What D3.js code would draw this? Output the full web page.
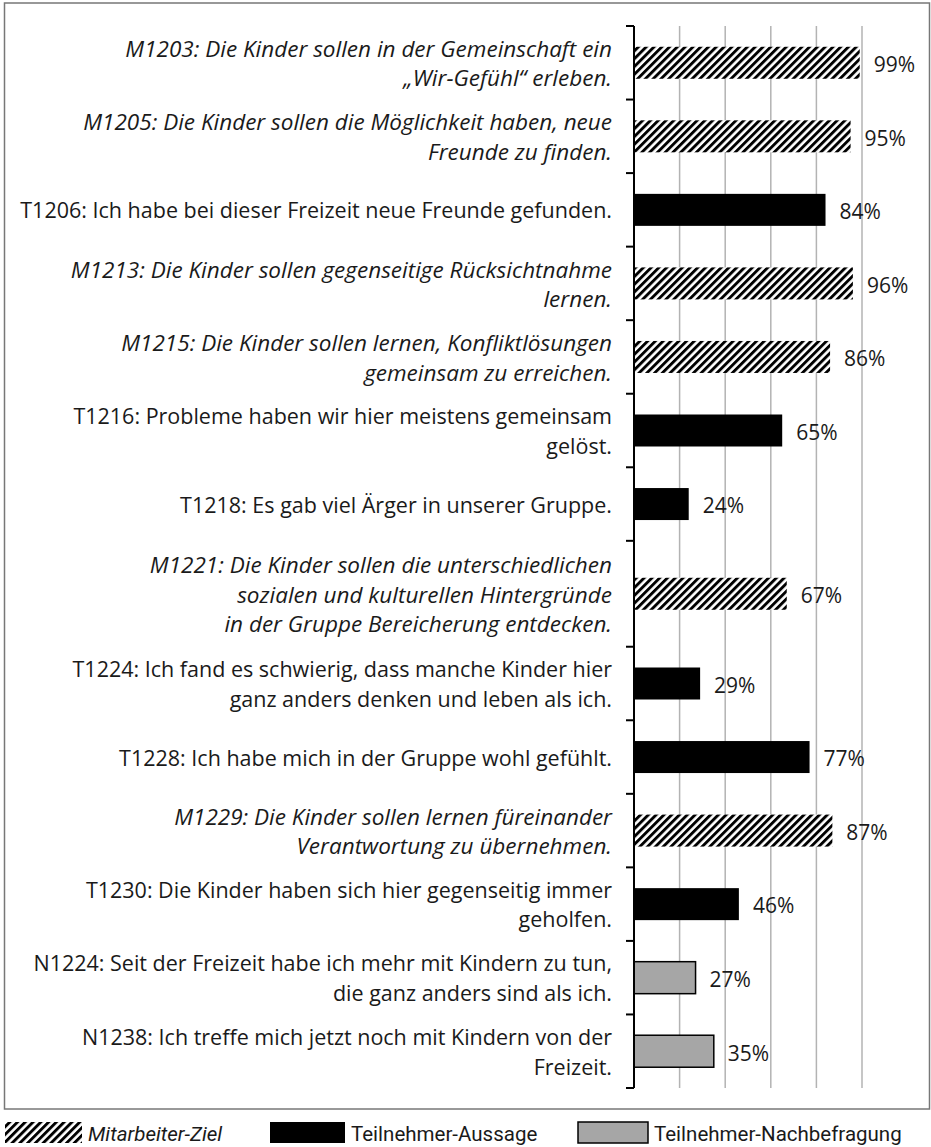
<!DOCTYPE html>
<html>
<head>
<meta charset="utf-8">
<script src="https://cdnjs.cloudflare.com/ajax/libs/d3/7.8.5/d3.min.js"></script>
<style>
  body { margin: 0; background: #fff; }
  svg text { font-family: "Open Sans", "Noto Sans", sans-serif; fill: #1a1a1a; }
  svg .legend text { font-family: Roboto, "Noto Sans", sans-serif; }
</style>
</head>
<body>
<div id="chart-area"></div>
<script>
// data
const labels = [
  "M1203: Die Kinder sollen in der Gemeinschaft ein\n„Wir-Gefühl“ erleben.",
  "M1205: Die Kinder sollen die Möglichkeit haben, neue\nFreunde zu finden.",
  "T1206: Ich habe bei dieser Freizeit neue Freunde gefunden.",
  "M1213: Die Kinder sollen gegenseitige Rücksichtnahme\nlernen.",
  "M1215: Die Kinder sollen lernen, Konfliktlösungen\ngemeinsam zu erreichen.",
  "T1216: Probleme haben wir hier meistens gemeinsam\ngelöst.",
  "T1218: Es gab viel Ärger in unserer Gruppe.",
  "M1221: Die Kinder sollen die unterschiedlichen\nsozialen und kulturellen Hintergründe\nin der Gruppe Bereicherung entdecken.",
  "T1224: Ich fand es schwierig, dass manche Kinder hier\nganz anders denken und leben als ich.",
  "T1228: Ich habe mich in der Gruppe wohl gefühlt.",
  "M1229: Die Kinder sollen lernen füreinander\nVerantwortung zu übernehmen.",
  "T1230: Die Kinder haben sich hier gegenseitig immer\ngeholfen.",
  "N1224: Seit der Freizeit habe ich mehr mit Kindern zu tun,\ndie ganz anders sind als ich.",
  "N1238: Ich treffe mich jetzt noch mit Kindern von der\nFreizeit."
];
const values = [99, 95, 84, 96, 86, 65, 24, 67, 29, 77, 87, 46, 27, 35];
const groups = ["M", "M", "T", "M", "M", "T", "T", "M", "T", "T", "M", "T", "N", "N"];
const groupNames = ["Mitarbeiter-Ziel", "Teilnehmer-Aussage", "Teilnehmer-Nachbefragung"];
const gridTicks = [20, 40, 60, 80, 100];

const canvasWidth = 931;
const canvasHeight = 1147;
const margin = {left: 634, top: 26, right: 69, bottom: 59};
const chartWidth = canvasWidth - margin.left - margin.right;
const chartHeight = canvasHeight - margin.top - margin.bottom;

const data = labels.map((l, i) => ({label: l, lines: l.split("\n"), value: values[i], group: groups[i]}));

// rows with three label lines get a taller slot
data.forEach(d => { d.units = d.lines.length > 2 ? 1 + (d.lines.length - 2) * 0.44 : 1; });
let acc = 0;
data.forEach(d => { d.start = acc; acc += d.units; d.end = acc; });

const yScale = d3.scaleLinear().domain([0, acc]).range([0, chartHeight]);
const xScale = d3.scaleLinear().domain([0, 100]).range([0, chartWidth]);
const fillFor = {M: "url(#hatch)", T: "#000", N: "#a6a6a6"};

const canvas = d3.select("#chart-area").append("svg").attr("width", canvasWidth).attr("height", canvasHeight);

const pattern = canvas.append("defs").append("pattern")
  .attr("id", "hatch")
  .attr("patternUnits", "userSpaceOnUse")
  .attr("width", 5.5).attr("height", 5.5)
  .attr("patternTransform", "rotate(45)");
pattern.append("rect").attr("width", 5.5).attr("height", 5.5).attr("fill", "#fff");
pattern.append("rect").attr("width", 2.9).attr("height", 5.5).attr("fill", "#000");

// frame
canvas.append("rect")
  .attr("x", 4.5).attr("y", 3)
  .attr("width", 925).attr("height", 1106)
  .attr("fill", "none").attr("stroke", "#777").attr("stroke-width", 1.5);

const chartGroup = canvas.append("g").attr("transform", `translate(${margin.left}, ${margin.top})`);

// gridlines
chartGroup.selectAll(".grid")
  .data(gridTicks)
  .enter()
  .append("line")
  .attr("x1", d => xScale(d)).attr("x2", d => xScale(d))
  .attr("y1", 0).attr("y2", chartHeight)
  .attr("stroke", "#b3b3b3").attr("stroke-width", 1.5);

// bars
const barHeight = 32;
chartGroup.selectAll(".bar")
  .data(data)
  .enter()
  .append("rect")
  .attr("x", 0)
  .attr("y", d => (yScale(d.start) + yScale(d.end)) / 2 - barHeight / 2)
  .attr("width", d => xScale(d.value))
  .attr("height", barHeight)
  .attr("fill", d => fillFor[d.group])
  .attr("stroke", d => d.group === "N" ? "#000" : "none")
  .attr("stroke-width", 1.5);

// value labels
chartGroup.selectAll(".val")
  .data(data)
  .enter()
  .append("text")
  .attr("x", d => xScale(d.value) + 14)
  .attr("y", d => (yScale(d.start) + yScale(d.end)) / 2 + 2)
  .attr("dy", "0.35em")
  .attr("font-size", "21px")
  .text(d => d.value + "%");

// axis line and ticks
chartGroup.append("line")
  .attr("x1", 0).attr("x2", 0).attr("y1", 0).attr("y2", chartHeight)
  .attr("stroke", "#000").attr("stroke-width", 2);
const tickPos = [0].concat(data.map(d => d.end));
chartGroup.selectAll(".tick")
  .data(tickPos)
  .enter()
  .append("line")
  .attr("x1", -8).attr("x2", 0)
  .attr("y1", d => yScale(d)).attr("y2", d => yScale(d))
  .attr("stroke", "#000").attr("stroke-width", 2);

// category labels
const lineStep = 29.5;
const labelGroups = chartGroup.selectAll(".label")
  .data(data)
  .enter()
  .append("text")
  .attr("text-anchor", "end")
  .attr("font-size", d => d.group === "M" ? "22.5px" : "21.5px")
  .attr("font-style", d => d.group === "M" ? "italic" : "normal")
  .attr("transform", d => `translate(-22, ${(yScale(d.start) + yScale(d.end)) / 2 + 1})`);
labelGroups.selectAll("tspan")
  .data(d => d.lines.map((t, i) => ({t: t, i: i, n: d.lines.length})))
  .enter()
  .append("tspan")
  .attr("x", 0)
  .attr("y", l => (l.i - (l.n - 1) / 2) * lineStep)
  .attr("dy", "0.35em")
  .text(l => l.t);

// legend
const legendItems = [
  {name: groupNames[0], fill: fillFor.M, stroke: "none", x: 5, w: 77},
  {name: groupNames[1], fill: fillFor.T, stroke: "none", x: 270, w: 75},
  {name: groupNames[2], fill: fillFor.N, stroke: "#000", x: 578, w: 70}
];
const legend = canvas.append("g").attr("class", "legend").attr("transform", "translate(0, 1122)");
legend.selectAll("rect")
  .data(legendItems)
  .enter()
  .append("rect")
  .attr("x", d => d.x).attr("y", 0)
  .attr("width", d => d.w).attr("height", 21)
  .attr("fill", d => d.fill)
  .attr("stroke", d => d.stroke).attr("stroke-width", 1.5);
legend.selectAll("text")
  .data(legendItems)
  .enter()
  .append("text")
  .attr("x", d => d.x + d.w + 6)
  .attr("y", 12)
  .attr("dy", "0.35em")
  .attr("font-size", "20.5px")
  .attr("font-style", (d, i) => i === 0 ? "italic" : "normal")
  .text(d => d.name);
</script>
</body>
</html>
